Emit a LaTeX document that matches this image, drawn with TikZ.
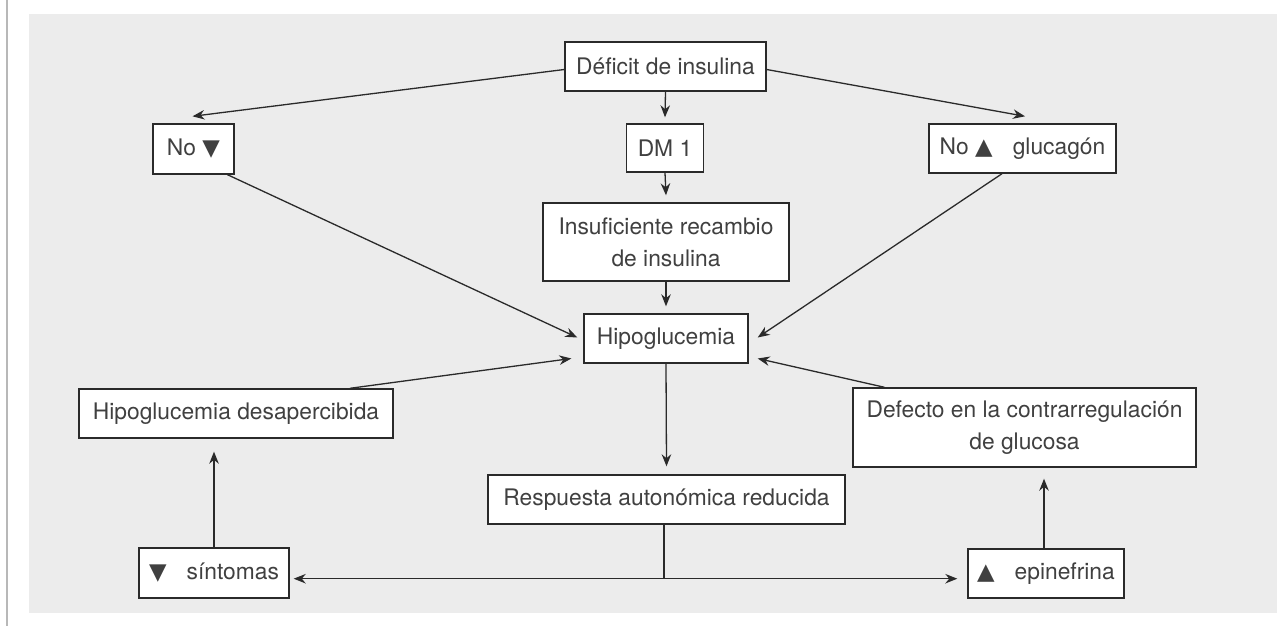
\documentclass[tikz,border=0pt]{standalone}
\usepackage{fontspec}
\setmainfont{TeX Gyre Heros}
\newfontfamily\symf{DejaVu Sans}
\usetikzlibrary{arrows.meta,calc}
\definecolor{panel}{HTML}{ECECEC}
\definecolor{ink}{HTML}{2A2A2A}
\definecolor{txt}{HTML}{404040}
\definecolor{edge}{HTML}{B8B8B8}
\begin{document}
\begin{tikzpicture}[x=1pt,y=-1pt,
  box/.style={draw=ink, fill=white, line width=1.4pt, text=txt,
    font=\fontsize{22.8}{32}\selectfont, align=center, inner sep=0pt,
    minimum height=49pt},
  arr/.style={draw=ink, line width=1.3pt, -{Stealth[length=12pt,width=9.5pt]}},
  plain/.style={draw=ink, line width=1.3pt}]
\useasboundingbox (0,0) rectangle (1277,626);
\fill[white] (0,0) rectangle (1277,626);
\fill[panel] (29,14) rectangle (1277,613);
\draw[edge, line width=1.4pt] (7,0) -- (7,626);

\node[box, minimum width=201pt] (def) at (665.5,66.5) {Déficit de insulina};
\node[box, minimum width=77pt, minimum height=48pt] (dm) at (665,148) {DM 1};
\node[box, minimum width=81pt, minimum height=50pt] (nodown) at (193.5,149) {No {\symf ▼}};
\node[box, minimum width=187pt] (noup) at (1022.5,148.5) {No {\symf ▲}\hspace{0.6em} glucagón};
\node[box, minimum width=246pt, minimum height=78pt] (insu) at (666,242) {Insuficiente recambio\\de insulina};
\node[box, minimum width=164pt] (hipo) at (666,338.5) {Hipoglucemia};
\node[box, minimum width=314pt] (desap) at (236,413.5) {Hipoglucemia desapercibida};
\node[box, minimum width=343pt, minimum height=79pt] (defe) at (1024.5,427.5) {Defecto en la contrarregulación\\de glucosa};
\node[box, minimum width=357pt] (resp) at (666.5,499.5) {Respuesta autonómica reducida};
\node[box, minimum width=150pt, minimum height=50pt] (sint) at (214,573) {{\symf ▼}\hspace{0.6em} síntomas};
\node[box, minimum width=156pt] (epi) at (1046,573.5) {{\symf ▲}\hspace{0.6em} epinefrina};

\draw[arr] ($(def.west)+(0,3)$) -- ($(nodown.north)+(-1,-7)$);
\draw[arr] ($(def.east)+(0,3)$) -- ($(noup.north)+(2.5,-7)$);
\draw[arr] (def.south) -- ($(dm.north)+(0,-6)$);
\draw[arr] (dm.south) -- ($(insu.north)+(0,-7)$);
\draw[arr] (insu.south) -- ($(hipo.north)+(0,-7)$);
\draw[arr] ($(nodown.south)+(34,0)$) -- ($(hipo.west)+(-6,-1)$);
\draw[arr] ($(noup.south)+(-20.5,0)$) -- ($(hipo.east)+(9,-1)$);
\draw[arr] ($(desap.north)+(114,0)$) -- ($(hipo.west)+(-12,20)$);
\draw[arr] ($(defe.north)+(-140,0)$) -- ($(hipo.east)+(9,20)$);
\draw[arr] (hipo.south) -- ($(resp.north)+(0,-8)$);
\coordinate (j) at ($(resp.south)+(-2.5,54)$);
\draw[plain] (j |- resp.south) -- (j);
\draw[arr] (j) -- ($(j -| sint.east)+(4,0)$);
\draw[arr] (j) -- ($(j -| epi.west)+(-10,0)$);
\draw[arr] (sint.north) -- ($(sint.north |- desap.south)+(0,13)$);
\draw[arr] ($(epi.north)+(-2,0)$) -- ($(epi.north |- defe.south)+(-2,11)$);
\end{tikzpicture}
\end{document}
